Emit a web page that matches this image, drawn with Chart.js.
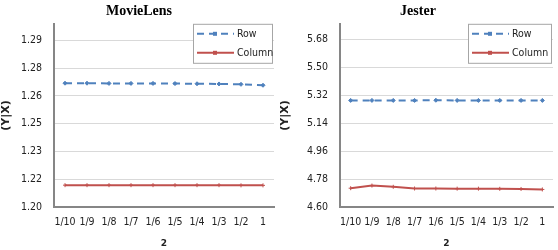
<!DOCTYPE html>
<html>
<head>
<meta charset="utf-8">
<script src="https://cdn.jsdelivr.net/npm/chart.js@4.4.1/dist/chart.umd.min.js"></script>
<style>
    html, body { margin: 0; padding: 0; background: #fff; }
    .panel { position: absolute; top: 0; width: 279px; height: 250px; }
</style>
</head>
<body>
<div class="panel" style="left:0"><canvas id="movielens-chart" width="279" height="250"></canvas></div>
<div class="panel" style="left:279px"><canvas id="jester-chart" width="279" height="250"></canvas></div>
<script>
// --- Data ---
const categories = ['1/10', '1/9', '1/8', '1/7', '1/6', '1/5', '1/4', '1/3', '1/2', '1'];

const movieLensRow = [1.2669, 1.2669, 1.2668, 1.2668, 1.2668, 1.2667, 1.2666, 1.2665, 1.2663, 1.2658];
const movieLensColumn = [1.2118, 1.2118, 1.2118, 1.2118, 1.2118, 1.2118, 1.2118, 1.2118, 1.2117, 1.2117];
const movieLensTicks = [1.2, 1.215, 1.23, 1.245, 1.26, 1.275, 1.29];
const movieLensTickLabels = ['1.20', '1.22', '1.23', '1.25', '1.26', '1.28', '1.29'];

const jesterRow = [5.286, 5.286, 5.286, 5.286, 5.287, 5.286, 5.286, 5.286, 5.286, 5.286];
const jesterColumn = [4.721, 4.738, 4.730, 4.719, 4.719, 4.718, 4.718, 4.717, 4.716, 4.713];
const jesterTicks = [4.60, 4.78, 4.96, 5.14, 5.32, 5.50, 5.68];
const jesterTickLabels = ['4.60', '4.78', '4.96', '5.14', '5.32', '5.50', '5.68'];

const ROW_COLOR = '#4F81BD';
const COL_COLOR = '#C0504D';
const TICK_FONT = "'DejaVu Sans Condensed', 'Liberation Sans Narrow', 'DejaVu Sans', sans-serif";

// --- Legend drawn inside the plot area, top right ---
const boxLegend = {
    id: 'boxLegend',
    afterDraw(chart, args, opts) {
        const { ctx, chartArea } = chart;
        const w = opts.width, h = 39;
        const x = chartArea.right - w - 2;
        const y = chartArea.top;
        ctx.save();
        ctx.fillStyle = '#fff';
        ctx.fillRect(x, y, w, h);
        ctx.strokeStyle = '#a6a6a6';
        ctx.lineWidth = 1;
        ctx.strokeRect(x + 0.5, y + 0.5, w, h);
        ctx.font = '10.5px ' + TICK_FONT;
        ctx.textBaseline = 'middle';
        chart.data.datasets.forEach((ds, i) => {
            const ly = y + 10 + i * 19;
            ctx.strokeStyle = ds.borderColor;
            ctx.lineWidth = 2;
            ctx.setLineDash(ds.borderDash || []);
            ctx.beginPath();
            ctx.moveTo(x + 4, ly);
            ctx.lineTo(x + 41, ly);
            ctx.stroke();
            ctx.setLineDash([]);
            ctx.fillStyle = ds.borderColor;
            ctx.fillRect(x + 20, ly - 2, 4, 4);
            ctx.fillStyle = '#222';
            ctx.fillText(ds.label, x + 44, ly);
        });
        ctx.restore();
    }
};

const buildChart = (canvasId, title, rowData, colData, ticks, tickLabels, topExtra, axisWidth, legendWidth) => {
    const step = ticks[1] - ticks[0];
    const ctx = document.getElementById(canvasId).getContext('2d');
    return new Chart(ctx, {
        type: 'line',
        data: {
            labels: categories,
            datasets: [{
                label: 'Row',
                data: rowData,
                borderColor: ROW_COLOR,
                backgroundColor: ROW_COLOR,
                borderWidth: 2,
                borderDash: [7, 5],
                pointStyle: 'rectRot',
                pointRadius: 2,
                pointBorderWidth: 1,
                tension: 0,
            }, {
                label: 'Column',
                data: colData,
                borderColor: COL_COLOR,
                backgroundColor: COL_COLOR,
                borderWidth: 2,
                pointStyle: 'cross',
                pointRadius: 2,
                pointBorderWidth: 1,
                tension: 0,
            }]
        },
        options: {
            responsive: false,
            animation: false,
            layout: { padding: { left: 0, right: 1, top: 0, bottom: 0 } },
            scales: {
                x: {
                    type: 'category',
                    offset: true,
                    grid: { display: false, drawTicks: false },
                    border: { display: true, color: '#868686', width: 2 },
                    ticks: { color: '#222', padding: 9, maxRotation: 0, autoSkip: false, font: { family: TICK_FONT, size: 10.5 } },
                    title: { display: true, text: '2', color: '#222', padding: { top: 0, bottom: 1 }, font: { family: 'DejaVu Sans', size: 9, weight: 'bold' } },
                    afterFit: (scale) => { scale.height = 43; }
                },
                y: {
                    min: ticks[0],
                    max: ticks[ticks.length - 1] + step * topExtra,
                    afterBuildTicks: (scale) => { scale.ticks = ticks.map(v => ({ value: v })); },
                    grid: { color: '#d9d9d9', drawTicks: false },
                    border: { display: true, color: '#868686', width: 2 },
                    ticks: {
                        color: '#222',
                        padding: 12,
                        font: { family: TICK_FONT, size: 10.5 },
                        callback: (value, index) => tickLabels[index]
                    },
                    title: { display: true, text: '(Y|X)', color: '#222', padding: 0, font: { family: 'DejaVu Sans', size: 11, weight: 'bold' } },
                    afterFit: (scale) => { scale.width = axisWidth; }
                }
            },
            plugins: {
                legend: { display: false },
                tooltip: { enabled: false },
                title: {
                    display: true,
                    text: title,
                    color: '#000',
                    padding: { top: 3, bottom: 4 },
                    font: { family: "'Liberation Serif', serif", size: 14, weight: 'bold' }
                },
                boxLegend: { width: legendWidth }
            }
        },
        plugins: [boxLegend]
    });
};

buildChart('movielens-chart', 'MovieLens', movieLensRow, movieLensColumn, movieLensTicks, movieLensTickLabels, 0.6, 54, 79);
buildChart('jester-chart', 'Jester', jesterRow, jesterColumn, jesterTicks, jesterTickLabels, 0.55, 61, 83);
</script>
</body>
</html>
